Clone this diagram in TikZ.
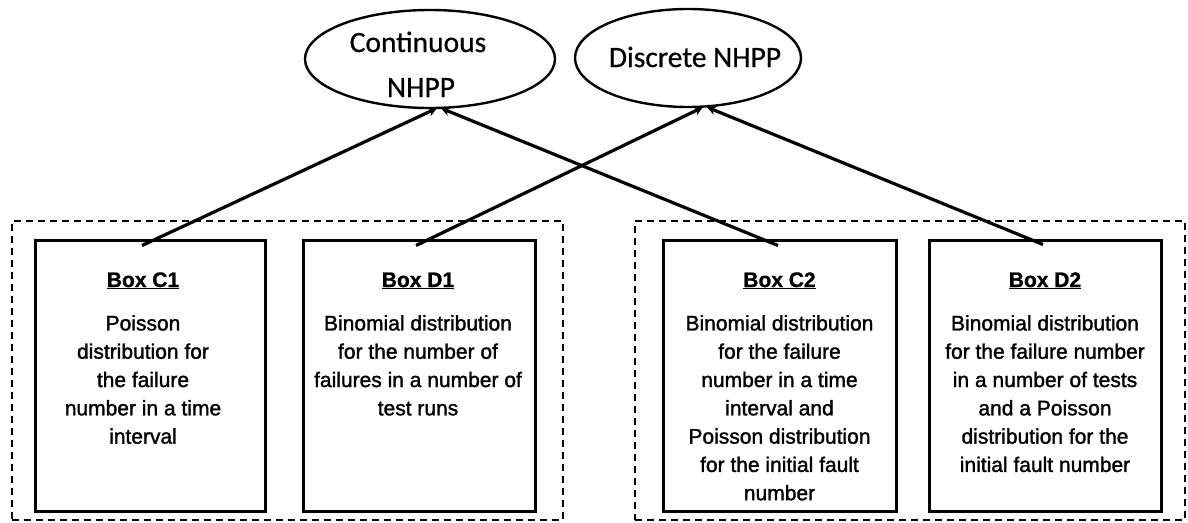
\documentclass[tikz,border=0pt]{standalone}
\usepackage{fontspec}
\setmainfont{Liberation Sans}
\newfontfamily\bodyf[FakeBold=1.5]{Liberation Sans}
\newfontfamily\titlef[FakeBold=1]{Liberation Sans Bold}
\newfontfamily\calib[FakeBold=0.6]{Carlito}
\usetikzlibrary{arrows.meta,shapes.geometric,calc}
\begin{document}
\begin{tikzpicture}[x=1pt,y=-1pt,
  grp/.style={draw, line width=2.3pt, dash pattern=on 7pt off 5pt, inner sep=0pt},
  bx/.style={draw, line width=3pt, inner sep=0pt, minimum height=271pt},
  ell/.style={draw, ellipse, line width=2.4pt, inner sep=0pt, minimum height=98pt},
  etext/.style={font=\calib\fontsize{29.5}{30}\selectfont, anchor=base, inner sep=0pt},
  ttl/.style={font=\titlef\fontsize{21}{28}\selectfont, anchor=base, inner sep=0pt},
  body/.style={font=\bodyf\fontsize{21}{28.3}\selectfont, align=center, anchor=north, inner sep=0pt},
  arr/.style={line width=3.2pt, -{Stealth[length=9pt,width=9pt]}}]
\useasboundingbox (0,0) rectangle (1188,522);
% groups
\node[grp, minimum width=551pt, minimum height=299pt] (G1) at (287.5,370.5) {};
\node[grp, minimum width=550pt, minimum height=299pt] (G2) at (910,370.5) {};
% boxes
\node[bx, minimum width=230pt] (C1) at (150,375.5) {};
\node[bx, minimum width=232pt] (D1) at (419,375.5) {};
\node[bx, minimum width=233pt] (C2) at (779.5,375.5) {};
\node[bx, minimum width=232pt] (D2) at (1045,375.5) {};
% titles
\node[ttl] (tC1) at (143,287) {\underline{Box C1}};
\node[ttl] (tD1) at (418,287) {\underline{Box D1}};
\node[ttl] (tC2) at (779.5,287) {\underline{Box C2}};
\node[ttl] (tD2) at (1045,287) {\underline{Box D2}};
% bodies
\node[body] (bC1) at (143,315) {Poisson\\distribution for\\the failure\\number in a time\\interval};
\node[body] (bD1) at (418,315) {Binomial distribution\\for the number of\\failures in a number of\\test runs};
\node[body] (bC2) at (779.5,315) {Binomial distribution\\for the failure\\number in a time\\interval and\\Poisson distribution\\for the initial fault\\number};
\node[body] (bD2) at (1045,315) {Binomial distribution\\for the failure number\\in a number of tests\\and a Poisson\\distribution for the\\initial fault number};
% ellipses
\node[ell, minimum width=250pt] (cont) at (430,59) {};
\node[ell, minimum width=226pt] (disc) at (688,58) {};
\node[etext] (tcont1) at (418,52) {Continuous};
\node[etext] (tcont2) at (421,97) {NHPP};
\node[etext] (tdisc) at (695,67) {Discrete NHPP};
% arrow endpoints
\coordinate (c1a) at ($(C1.north)+(-8,7)$);
\coordinate (d1a) at ($(D1.north)+(-3,7)$);
\coordinate (c2a) at ($(C2.north)+(-1.5,7)$);
\coordinate (d2a) at ($(D2.north)+(-2,6)$);
\coordinate (contL) at ($(cont.south)+(7,-1)$);
\coordinate (contR) at ($(cont.south)+(11,-1)$);
\coordinate (discL) at ($(disc.south)+(15,-1)$);
\coordinate (discR) at ($(disc.south)+(19,-1)$);
\draw[arr] (c1a) -- (contL);
\draw[arr] (c2a) -- (contR);
\draw[arr] (d1a) -- (discL);
\draw[arr] (d2a) -- (discR);
\end{tikzpicture}
\end{document}
